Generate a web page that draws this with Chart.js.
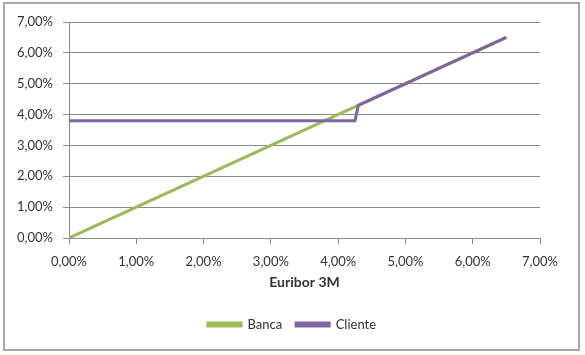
<!DOCTYPE html>
<html>
<head>
<meta charset="utf-8">
<script src="https://cdn.jsdelivr.net/npm/chart.js@4"></script>
<style>
  body { margin: 0; background: #fff; }
  #wrap { width: 585px; height: 355px; position: relative; }
</style>
</head>
<body>
<div id="wrap"><canvas id="grafico" width="585" height="355"></canvas></div>
<script>
const bancaX = [0, 6.5];
const bancaY = [0, 6.5];
const clienteX = [0, 4.25, 4.3, 6.5];
const clienteY = [3.8, 3.8, 4.3, 6.5];
const seriesNames = ["Banca", "Cliente"];
const axisTitle = "Euribor 3M";

const fontFamily = "Lato, 'Open Sans', sans-serif";
const textColor = "#333333";
const gridColor = "#8a8a8a";

function toPoints(xs, ys) {
  return xs.map((x, i) => ({ x: x, y: ys[i] }));
}

function percentLabel(v) {
  return v.toFixed(2).replace(".", ",") + "%";
}

// white background + outer frame like the original chart area
const frame = {
  id: "frame",
  beforeDraw(chart) {
    const ctx = chart.ctx;
    ctx.save();
    ctx.fillStyle = "#fff";
    ctx.fillRect(0, 0, chart.width, chart.height);
    ctx.strokeStyle = "#a8a8a8";
    ctx.lineWidth = 2;
    ctx.strokeRect(4, 3, 575, 347);
    ctx.restore();
  },
};

new Chart(document.getElementById("grafico"), {
  type: "scatter",
  data: {
    datasets: [
      {
        label: seriesNames[0],
        data: toPoints(bancaX, bancaY),
        showLine: true,
        borderColor: "#9bbb59",
        backgroundColor: "#9bbb59",
        borderWidth: 3,
        pointRadius: 0,
        order: 1,
      },
      {
        label: seriesNames[1],
        data: toPoints(clienteX, clienteY),
        showLine: true,
        borderColor: "#8064a2",
        backgroundColor: "#8064a2",
        borderWidth: 3,
        pointRadius: 0,
        order: 0,
      },
    ],
  },
  options: {
    responsive: false,
    animation: false,
    layout: { padding: { top: 22, right: 1, bottom: 14, left: 0 } },
    plugins: {
      legend: {
        position: "bottom",
        labels: {
          boxWidth: 33,
          boxHeight: 3,
          padding: 14,
          color: textColor,
          font: { family: fontFamily, size: 13 },
          sort: (a, b) => a.datasetIndex - b.datasetIndex,
        },
      },
      tooltip: { enabled: false },
    },
    scales: {
      x: {
        type: "linear",
        min: 0,
        max: 7,
        afterFit: (s) => { s.height = 66; },
        ticks: {
          stepSize: 1,
          padding: 10,
          color: textColor,
          font: { family: fontFamily, size: 13 },
          callback: percentLabel,
        },
        grid: { drawOnChartArea: false, tickLength: 6, color: gridColor },
        border: { color: gridColor },
        title: {
          display: true,
          text: axisTitle,
          color: textColor,
          font: { family: fontFamily, size: 14, weight: "bold" },
          padding: { top: 4, bottom: 13 },
        },
      },
      y: {
        min: 0,
        max: 7,
        afterFit: (s) => { s.width = 69; },
        ticks: {
          stepSize: 1,
          padding: 10,
          color: textColor,
          font: { family: fontFamily, size: 13 },
          callback: percentLabel,
        },
        grid: { tickLength: 6, color: gridColor },
        border: { color: gridColor },
      },
      // empty right-hand spacer so the plot ends where the original does
      // while the legend stays centred on the whole chart
      spacer: {
        type: "linear",
        position: "right",
        afterFit: (s) => { s.width = 44; },
        ticks: { display: false },
        grid: { display: false },
        border: { display: false },
      },
    },
  },
  plugins: [frame],
});
</script>
</body>
</html>
